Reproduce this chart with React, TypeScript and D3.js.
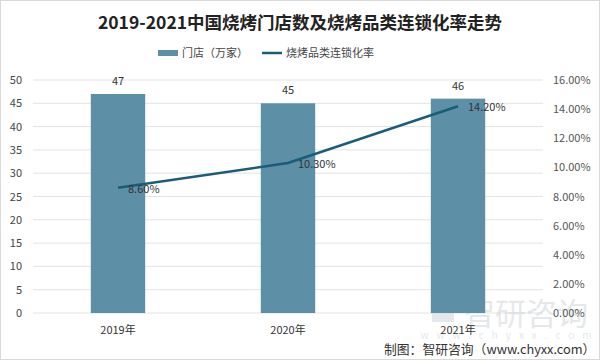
import React from "react";
import * as d3 from "d3";

const categories = ["2019年", "2020年", "2021年"];
const stores = [47, 45, 46];
const chainRate = [8.6, 10.3, 14.2];
const leftTicks = [0, 5, 10, 15, 20, 25, 30, 35, 40, 45, 50];
const rightTicks = [0, 2, 4, 6, 8, 10, 12, 14, 16];

const W = 600, H = 360;
const L = 33, R = 543, T = 80, B = 313;
const font = "'Noto Sans CJK SC', 'Noto Sans', sans-serif";

export default function App() {
  const x = d3.scaleBand().domain(categories).range([L, R]).padding(0);
  const yL = d3.scaleLinear().domain([0, 50]).range([B, T]);
  const yR = d3.scaleLinear().domain([0, 16]).range([B, T]);
  const bw = x.bandwidth() * 0.32;
  const cx = (c: string) => (x(c) as number) + x.bandwidth() / 2;
  const line = d3.line<number>().x((_, i) => cx(categories[i])).y((d) => yR(d));

  return (
    <svg width={W} height={H} style={{ position: "absolute", left: 0, top: 0, background: "#fff" }} fontFamily={font}>
      <rect x={0.5} y={0.5} width={W - 1} height={H - 1} fill="#fff" stroke="#d9d9d9" />
      <text x={300} y={29} textAnchor="middle" fontSize={17.5} fontWeight="bold" fill="#222">
        2019-2021中国烧烤门店数及烧烤品类连锁化率走势
      </text>
      {/* legend */}
      <rect x={158} y={50} width={20} height={6} fill="#5d8fa6" />
      <text x={182} y={57} fontSize={11} fill="#444">门店（万家）</text>
      <line x1={262} x2={282} y1={53} y2={53} stroke="#1b5c78" strokeWidth={2.5} />
      <text x={286} y={57} fontSize={11} fill="#444">烧烤品类连锁化率</text>
      {/* grid */}
      {leftTicks.map((t) => (
        <g key={t}>
          <line x1={L} x2={R} y1={yL(t)} y2={yL(t)} stroke="#e3e3e3" />
          <text x={22} y={yL(t) + 4} textAnchor="end" fontSize={11} fill="#444">{t}</text>
        </g>
      ))}
      {/* watermark */}
      <g opacity={0.55}>
        <rect x={432} y={298} width={22} height={24} fill="#cfd6da" />
        <text x={526} y={325} textAnchor="middle" fontSize={31} fill="#cfd6da">智研咨询</text>
        <text x={510} y={339} textAnchor="middle" fontSize={10} fill="#cfd6da" letterSpacing={8}>www.chyxx.com</text>
      </g>
      {rightTicks.map((t) => (
        <text key={t} x={553} y={yR(t) + 4} fontSize={11} fill="#555">{t.toFixed(2)}%</text>
      ))}
      {/* bars */}
      {categories.map((c, i) => (
        <g key={c}>
          <rect x={cx(c) - bw / 2} y={yL(stores[i])} width={bw} height={B - yL(stores[i])} fill="#5d8fa6" />
          <text x={cx(c)} y={yL(stores[i]) - 9} textAnchor="middle" fontSize={11} fill="#333">{stores[i]}</text>
          <text x={cx(c)} y={334} textAnchor="middle" fontSize={11} fill="#333">{c}</text>
        </g>
      ))}
      <path d={line(chainRate) as string} fill="none" stroke="#1b5c78" strokeWidth={2.5} />
      {chainRate.map((v, i) => (
        <text key={i} x={cx(categories[i]) + 10} y={yR(v) + 5} fontSize={11} fill="#333">{v.toFixed(2)}%</text>
      ))}
      <text x={384} y={354} fontSize={12.8} fill="#333">制图：智研咨询（www.chyxx.com）</text>
    </svg>
  );
}
